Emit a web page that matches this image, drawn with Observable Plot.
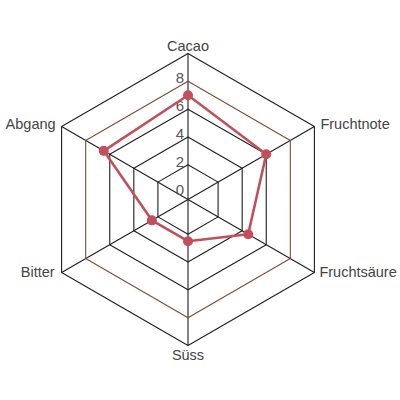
<!DOCTYPE html>
<html>
<head>
<meta charset="utf-8">
<script src="https://cdn.jsdelivr.net/npm/d3@7"></script>
<script src="https://cdn.jsdelivr.net/npm/@observablehq/plot@0.6"></script>
<style>
  html, body { margin: 0; padding: 0; background: #fff; }
  #chart { width: 400px; height: 400px; }
</style>
</head>
<body>
<div id="chart"></div>
<script>
// ---- data ----
const categories = ["Cacao", "Fruchtnote", "Fruchtsäure", "Süss", "Bitter", "Abgang"];
const values = [7, 6, 4.5, 2.5, 2.5, 6.5];
const ringValues = [2, 4, 6, 8, 10];
const tickValues = [0, 2, 4, 6, 8];
const maxValue = 10;

// ---- helpers ----
const rMin = -0.5; // radial domain start (value 0 sits slightly off centre)
const radius = d3.scaleLinear().domain([rMin, maxValue]).range([0, maxValue - rMin]);
const angleOf = (cat) => (categories.indexOf(cat) * 2 * Math.PI) / categories.length;
const px = (v, cat) => radius(v) * Math.sin(angleOf(cat));
const py = (v, cat) => radius(v) * Math.cos(angleOf(cat));

const closed = [...categories, categories[0]];
const rings = ringValues.flatMap((ring) => closed.map((cat) => ({ ring, cat })));
const series = closed.map((cat) => ({ cat, value: values[categories.indexOf(cat)] }));
const points = categories.map((cat, i) => ({ cat, value: values[i] }));
const spokes = categories.map((cat) => ({ cat }));

const unit = 13.9; // px per value unit
const cx = 187.5, cy = 199;

const labelPos = {
  "Cacao": { textAnchor: "middle", lineAnchor: "bottom", dx: 0, dy: -3 },
  "Fruchtnote": { textAnchor: "start", lineAnchor: "middle", dx: 6, dy: -2 },
  "Fruchtsäure": { textAnchor: "start", lineAnchor: "middle", dx: 5, dy: 0 },
  "Süss": { textAnchor: "middle", lineAnchor: "top", dx: 0, dy: 4 },
  "Bitter": { textAnchor: "end", lineAnchor: "middle", dx: -7, dy: 0 },
  "Abgang": { textAnchor: "end", lineAnchor: "middle", dx: -6, dy: -2 }
};

const gridColor = "#1e1e1e";
const brown = "#7d4b33";
const red = "#c2505b";
const font = "Liberation Sans, Arial, sans-serif";

const chart = Plot.plot({
  width: 400,
  height: 400,
  margin: 0,
  style: { fontFamily: font, background: "#fff" },
  x: { domain: [-cx / unit, (400 - cx) / unit], axis: null },
  y: { domain: [-(400 - cy) / unit, cy / unit], axis: null },
  marks: [
    Plot.link(spokes, {
      x1: 0, y1: 0,
      x2: (d) => px(maxValue, d.cat),
      y2: (d) => py(maxValue, d.cat),
      stroke: gridColor, strokeWidth: 1.1
    }),
    Plot.line(rings.filter((d) => d.ring !== 8), {
      x: (d) => px(d.ring, d.cat),
      y: (d) => py(d.ring, d.cat),
      z: "ring",
      stroke: gridColor, strokeWidth: 1.1
    }),
    Plot.line(rings.filter((d) => d.ring === 8), {
      x: (d) => px(d.ring, d.cat),
      y: (d) => py(d.ring, d.cat),
      z: "ring",
      stroke: brown, strokeWidth: 1.1
    }),
    Plot.text(tickValues, {
      x: (d) => px(d, "Cacao"),
      y: (d) => py(d, "Cacao"),
      text: (d) => String(d),
      textAnchor: "end",
      lineAnchor: "bottom",
      dx: -4, dy: 2,
      fontSize: 15,
      fill: "#555"
    }),
    Plot.line(series, {
      x: (d) => px(d.value, d.cat),
      y: (d) => py(d.value, d.cat),
      stroke: red, strokeWidth: 2.6
    }),
    Plot.dot(points, {
      x: (d) => px(d.value, d.cat),
      y: (d) => py(d.value, d.cat),
      r: 5, fill: red, stroke: "none"
    }),
    ...categories.map((cat) => Plot.text([cat], {
      x: (d) => px(maxValue, d),
      y: (d) => py(maxValue, d),
      text: (d) => d,
      fontSize: 14.5,
      fill: "#444",
      ...labelPos[cat]
    }))
  ]
});
document.getElementById("chart").appendChild(chart);
</script>
</body>
</html>
